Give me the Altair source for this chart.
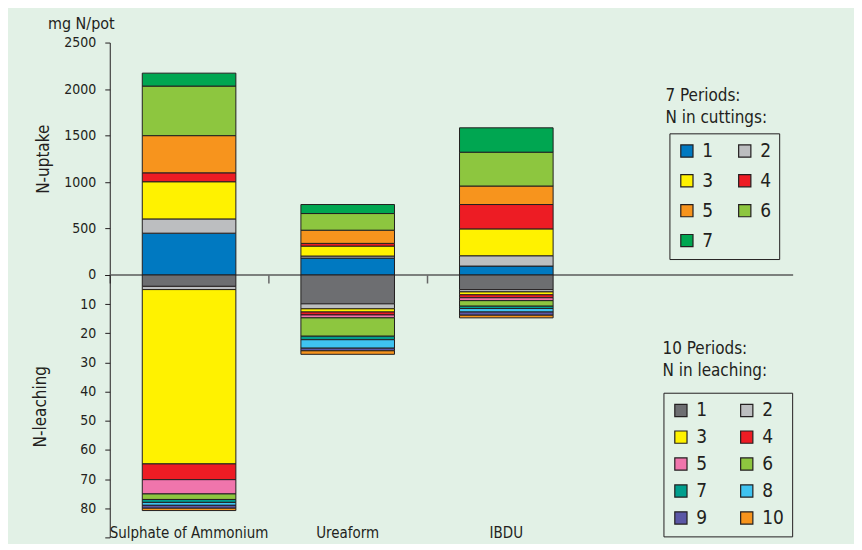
import altair as alt
import pandas as pd

# ---------------- data ----------------
categories = ["Sulphate of Ammonium", "Ureaform", "IBDU"]
cut_periods = ["1", "2", "3", "4", "5", "6", "7"]
leach_periods = ["1", "2", "3", "4", "5", "6", "7", "8", "9", "10"]

# N-uptake in cuttings (mg N/pot), periods 1..7
uptake_soa = [450, 153, 400, 96, 400, 533, 139]
uptake_urea = [182, 22, 107, 29, 142, 179, 97]
uptake_ibdu = [96, 111, 289, 262, 199, 364, 262]

# N-leaching (mg N/pot), periods 1..10
leach_soa = [3.9, 1.1, 59.8, 5.4, 4.9, 1.9, 1.0, 1.0, 1.0, 0.8]
leach_urea = [9.9, 1.7, 1.1, 1.0, 1.0, 6.3, 1.2, 2.9, 0.9, 1.2]
leach_ibdu = [5.0, 0.8, 1.0, 1.0, 1.0, 1.9, 0.8, 1.2, 1.1, 0.9]

uptake_ticks = [0, 500, 1000, 1500, 2000, 2500]
leach_ticks = [0, 10, 20, 30, 40, 50, 60, 70, 80, 90]

cut_colors = ["#0079c1", "#bcbec0", "#fff200", "#ed1c24", "#f7941d", "#8dc63f", "#00a651"]
leach_colors = ["#6d6e71", "#bcbec0", "#fff200", "#ed1c24", "#f075ac", "#8dc63f",
                "#009e8d", "#3fc3f1", "#5b57a6", "#f7941d"]

cut_legend_title = "7 Periods:\nN in cuttings:"
leach_legend_title = "10 Periods:\nN in leaching:"
unit_label = "mg N/pot"

# ---------------- tables ----------------
up_rows = []
for cat, vals in zip(categories, [uptake_soa, uptake_urea, uptake_ibdu]):
    for i, v in enumerate(vals):
        up_rows.append({"category": cat, "period": cut_periods[i], "idx": i, "value": v})
df_up = pd.DataFrame(up_rows)

le_rows = []
for cat, vals in zip(categories, [leach_soa, leach_urea, leach_ibdu]):
    for i, v in enumerate(vals):
        le_rows.append({"category": cat, "period": leach_periods[i], "idx": i, "value": v})
df_le = pd.DataFrame(le_rows)

FONT = "Liberation Sans Narrow, DejaVu Sans Condensed, Roboto Condensed, Arial Narrow, sans-serif"
INK = "#231f20"
W = 685

xscale = alt.Scale(domain=categories, range=[0, 477], paddingInner=0, paddingOuter=0)

# ---------------- top: uptake ----------------
bars_top = alt.Chart(df_up).mark_bar(
    width=alt.RelativeBandSize(0.59), stroke=INK, strokeWidth=1
).encode(
    x=alt.X("category:N", scale=xscale, sort=categories,
            axis=alt.Axis(title=None, labels=False, domain=False, ticks=True, tickSize=8,
                          bandPosition=0, tickColor="#666666", tickWidth=1.5)),
    y=alt.Y("value:Q", stack="zero", scale=alt.Scale(domain=[0, 2500], nice=False),
            axis=alt.Axis(values=uptake_ticks, format="d", title="N-uptake", titleFont=FONT,
                          titleFontSize=17, titleFontWeight="normal", titleColor=INK,
                          titlePadding=11, labelFont=FONT, labelFontSize=14,
                          labelColor=INK, labelPadding=9, tickSize=5, tickColor=INK,
                          domainColor=INK, grid=False)),
    color=alt.Color("period:N", scale=alt.Scale(domain=cut_periods, range=cut_colors),
                    legend=alt.Legend(title=None, orient="none", legendX=561, legendY=91,
                                      direction="horizontal", columns=2,
                                      symbolType="square", symbolSize=150,
                                      symbolStrokeColor=INK, symbolStrokeWidth=1.2,
                                      labelFont=FONT, labelFontSize=19, labelColor=INK,
                                      strokeColor=INK, padding=8, rowPadding=10,
                                      columnPadding=22, labelOffset=6)),
    order=alt.Order("idx:Q", sort="ascending"),
)

zero_line = alt.Chart(pd.DataFrame({"value": [0]})).mark_rule(
    color="#5a5a5a", strokeWidth=1.5
).encode(y="value:Q")

top_title_txt = alt.Chart(pd.DataFrame({"t": [cut_legend_title]})).mark_text(
    align="left", baseline="top", lineBreak="\n", font=FONT, fontSize=17,
    lineHeight=22, color=INK
).encode(x=alt.value(557), y=alt.value(46), text="t:N")

top = alt.layer(zero_line, bars_top, top_title_txt).properties(
    width=W, height=233,
    title=alt.TitleParams(unit_label, anchor="start", frame="group", dx=-62, offset=4,
                          font=FONT, fontSize=16, fontWeight="normal", color=INK),
)

# ---------------- bottom: leaching ----------------
bars_bot = alt.Chart(df_le).mark_bar(
    width=alt.RelativeBandSize(0.59), stroke=INK, strokeWidth=1
).encode(
    x=alt.X("category:N", scale=xscale, sort=categories,
            axis=alt.Axis(title=None, domain=False, ticks=False, labelFont=FONT,
                          labelFontSize=15, labelColor=INK, labelPadding=-12,
                          labelAngle=0, labelOverlap=False)),
    y=alt.Y("value:Q", stack="zero",
            scale=alt.Scale(domain=[0, 90], nice=False, reverse=True),
            axis=alt.Axis(values=leach_ticks, format="d", title="N-leaching", titleFont=FONT,
                          titleFontSize=17, titleFontWeight="normal", titleColor=INK,
                          titlePadding=30, labelFont=FONT, labelFontSize=14,
                          labelColor=INK, labelPadding=9, tickSize=5, tickColor=INK,
                          domainColor=INK, grid=False,
                          labelExpr="datum.value == 0 || datum.value == 90 ? '' : datum.label")),
    color=alt.Color("period:N", scale=alt.Scale(domain=leach_periods, range=leach_colors),
                    legend=alt.Legend(title=None, orient="none", legendX=555, legendY=118,
                                      direction="horizontal", columns=2,
                                      symbolType="square", symbolSize=150,
                                      symbolStrokeColor=INK, symbolStrokeWidth=1.2,
                                      labelFont=FONT, labelFontSize=19, labelColor=INK,
                                      strokeColor=INK, padding=8, rowPadding=7,
                                      columnPadding=30, labelOffset=6)),
    order=alt.Order("idx:Q", sort="ascending"),
)

bot_title_txt = alt.Chart(pd.DataFrame({"t": [leach_legend_title]})).mark_text(
    align="left", baseline="top", lineBreak="\n", font=FONT, fontSize=17,
    lineHeight=22, color=INK
).encode(x=alt.value(554), y=alt.value(66), text="t:N")

bottom = alt.layer(bars_bot, bot_title_txt).properties(width=W, height=263)

chart = alt.vconcat(top, bottom, spacing=0, bounds="flush").resolve_scale(
    color="independent"
).properties(
    background="#e2f1e6",
    padding={"left": 23, "top": 7, "right": 60, "bottom": 3},
).configure_view(stroke=None)

chart.save("out.html", embed_options={"renderer": "svg", "actions": False})
